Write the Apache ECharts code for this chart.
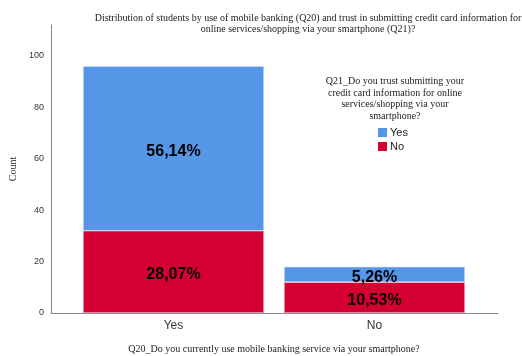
<!DOCTYPE html>
<html>
<head>
<meta charset="utf-8">
<script src="https://cdn.jsdelivr.net/npm/echarts@6/dist/echarts.min.js"></script>
<style>
  html, body { margin: 0; padding: 0; background: #fff; }
  #chart { width: 522px; height: 356px; }
</style>
</head>
<body>
<div id="chart"></div>
<script>
// Q20 categories (x axis)
const categories = ['Yes', 'No'];
// Q21 answers, counts per Q20 category
const noCounts = [32, 12];
const yesCounts = [64, 6];
// percentage labels shown in the segments
const noPct = ['28,07%', '10,53%'];
const yesPct = ['56,14%', '5,26%'];
const yTicks = [0, 20, 40, 60, 80, 100];

const chart = echarts.init(document.getElementById('chart'), null, { renderer: 'canvas' });

const serif = 'Liberation Serif';
const sans = 'Liberation Sans';

const segLabel = (texts) => ({
  show: true,
  position: 'inside',
  offset: [0, 3],
  fontFamily: sans,
  fontSize: 16,
  fontWeight: 'bold',
  color: '#000',
  formatter: p => texts[p.dataIndex]
});

const option = {
  backgroundColor: '#fff',
  animation: false,
  title: [{
    text: 'Distribution of students by use of mobile banking (Q20) and trust in submitting credit card information for\nonline services/shopping via your smartphone (Q21)?',
    left: 303,
    top: 8,
    textAlign: 'center',
    textStyle: { fontFamily: serif, fontSize: 10, fontWeight: 'normal', color: '#222', lineHeight: 11 }
  }, {
    text: 'Q21_Do you trust submitting your\ncredit card information for online\nservices/shopping via your\nsmartphone?',
    left: 390,
    top: 71,
    textAlign: 'center',
    textStyle: { fontFamily: serif, fontSize: 10, fontWeight: 'normal', color: '#222', lineHeight: 11.5 }
  }],
  legend: {
    data: ['Yes', 'No'],
    orient: 'vertical',
    left: 373,
    top: 122,
    icon: 'rect',
    itemWidth: 9,
    itemHeight: 9,
    itemGap: 3,
    itemStyle: { borderWidth: 0 },
    textStyle: { fontFamily: sans, fontSize: 11, color: '#222', padding: [0, 0, 0, -2] }
  },
  grid: [
    { left: 51, right: 24, top: 25, bottom: 43, outerBoundsMode: 'none', containLabel: false },
    { left: 73, right: 47, top: 25, bottom: 43, outerBoundsMode: 'none', containLabel: false }
  ],
  xAxis: [{
    gridIndex: 0,
    type: 'value',
    min: 0, max: 1,
    axisLine: { show: true, lineStyle: { color: '#888', width: 1 } },
    axisTick: { show: false },
    axisLabel: { show: false },
    splitLine: { show: false }
  }, {
    gridIndex: 1,
    type: 'category',
    data: categories,
    axisLine: { show: false },
    axisTick: { show: false },
    axisLabel: { fontFamily: sans, fontSize: 12, color: '#333', margin: 7 },
    name: 'Q20_Do you currently use mobile banking service via your smartphone?',
    nameLocation: 'middle',
    nameGap: 31,
    nameTextStyle: { fontFamily: serif, fontSize: 10, color: '#222' }
  }],
  yAxis: [{
    gridIndex: 0,
    type: 'value',
    min: 0, max: 112, interval: 20,
    axisLine: { show: true, lineStyle: { color: '#888', width: 1 } },
    axisTick: { show: false },
    splitLine: { show: false },
    axisLabel: {
      fontFamily: sans, fontSize: 9, color: '#333', margin: 7,
      showMaxLabel: false,
      formatter: v => yTicks.includes(v) ? String(v) : ''
    },
    name: 'Count',
    nameLocation: 'middle',
    nameGap: 30,
    nameRotate: 90,
    nameTextStyle: { fontFamily: serif, fontSize: 10, color: '#222' }
  }, {
    gridIndex: 1,
    type: 'value',
    min: 0, max: 112,
    show: false
  }],
  series: [{
    name: 'No',
    type: 'bar',
    stack: 'q21',
    xAxisIndex: 1,
    yAxisIndex: 1,
    data: noCounts,
    barWidth: 181,
    itemStyle: { color: '#D50032', borderColor: '#f3c9d2', borderWidth: 0.6 },
    label: segLabel(noPct)
  }, {
    name: 'Yes',
    type: 'bar',
    stack: 'q21',
    xAxisIndex: 1,
    yAxisIndex: 1,
    data: yesCounts,
    barWidth: 181,
    itemStyle: { color: '#5596E6', borderColor: '#d8e6f8', borderWidth: 0.6 },
    label: segLabel(yesPct)
  }]
};

chart.setOption(option);
</script>
</body>
</html>
